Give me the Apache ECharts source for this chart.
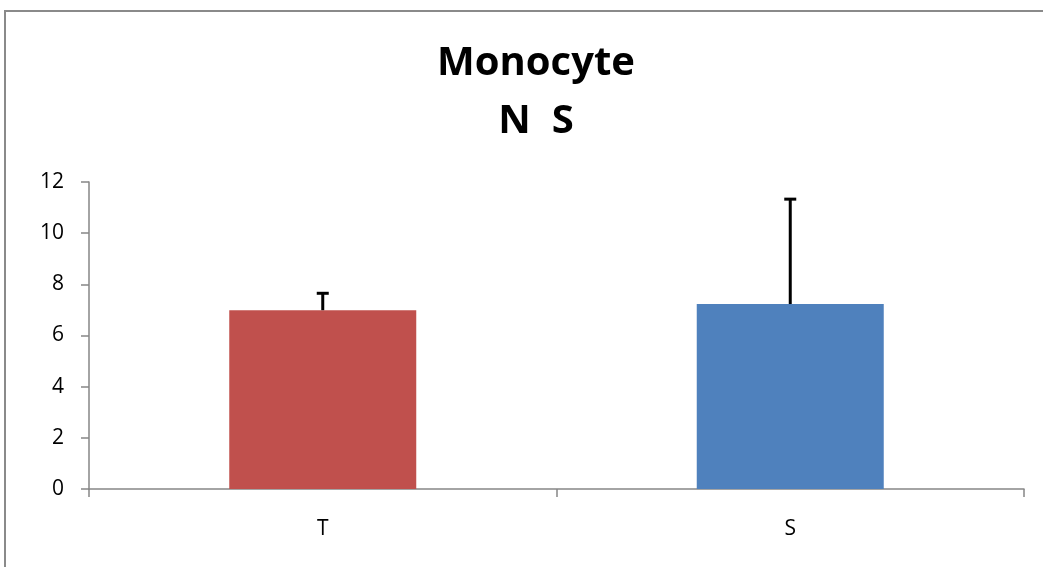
<!DOCTYPE html>
<html><head><meta charset="utf-8">
<script src="https://cdn.jsdelivr.net/npm/echarts@6/dist/echarts.min.js"></script>
<style>html,body{margin:0;padding:0;background:#fff}#c{width:1043px;height:567px}</style>
</head><body><div id="c"></div>
<script>
const categories = ['T', 'S'];
const means = [6.99, 7.23];
const upperErr = [0.66, 4.1];
const barColors = ['#C0504D', '#4F81BD'];
const yTicks = [0, 2, 4, 6, 8, 10, 12];

const chart = echarts.init(document.getElementById('c'));
chart.setOption({
  animation: false,
  title: {
    text: 'Monocyte\nN  S',
    left: 531, top: 30, textAlign: 'center',
    textStyle: {fontFamily: 'Open Sans', fontWeight: 'bold', fontSize: 40, lineHeight: 58, color: '#000'}
  },
  graphic: [{
    type: 'polyline', shape: {points: [[5, 567], [5, 11], [1043, 11]]},
    style: {stroke: '#8a8a8a', lineWidth: 2, fill: null}
  }],
  grid: {left: 89, right: 19, top: 182, bottom: 78, containLabel: false},
  xAxis: {
    type: 'category', data: categories,
    axisLine: {lineStyle: {color: '#868686', width: 1.5}},
    axisTick: {show: true, length: 8, lineStyle: {color: '#868686', width: 1.5}},
    axisLabel: {margin: 30, fontSize: 21, color: '#000', fontFamily: 'Open Sans'}
  },
  yAxis: {
    type: 'value', min: yTicks[0], max: yTicks[yTicks.length - 1], interval: 2,
    axisLine: {show: true, lineStyle: {color: '#868686', width: 1.5}},
    axisTick: {show: true, length: 8, lineStyle: {color: '#868686', width: 1.5}},
    splitLine: {show: false},
    axisLabel: {margin: 25, fontSize: 21, color: '#000', fontFamily: 'Open Sans'}
  },
  series: [{
    type: 'bar', barWidth: '40%',
    data: means.map((v, i) => ({value: v, itemStyle: {color: barColors[i]}}))
  }, {
    type: 'custom',
    data: means.map((v, i) => [i, v, v + upperErr[i]]),
    renderItem: function (params, api) {
      const base = api.coord([api.value(0), api.value(1)]);
      const top = api.coord([api.value(0), api.value(2)]);
      return {
        type: 'group', children: [
          {type: 'line', shape: {x1: base[0], y1: base[1], x2: top[0], y2: top[1]}, style: {stroke: '#000', lineWidth: 3}},
          {type: 'line', shape: {x1: top[0] - 6, y1: top[1], x2: top[0] + 6, y2: top[1]}, style: {stroke: '#000', lineWidth: 3}}
        ]
      };
    },
    z: 3
  }]
});
</script></body></html>
